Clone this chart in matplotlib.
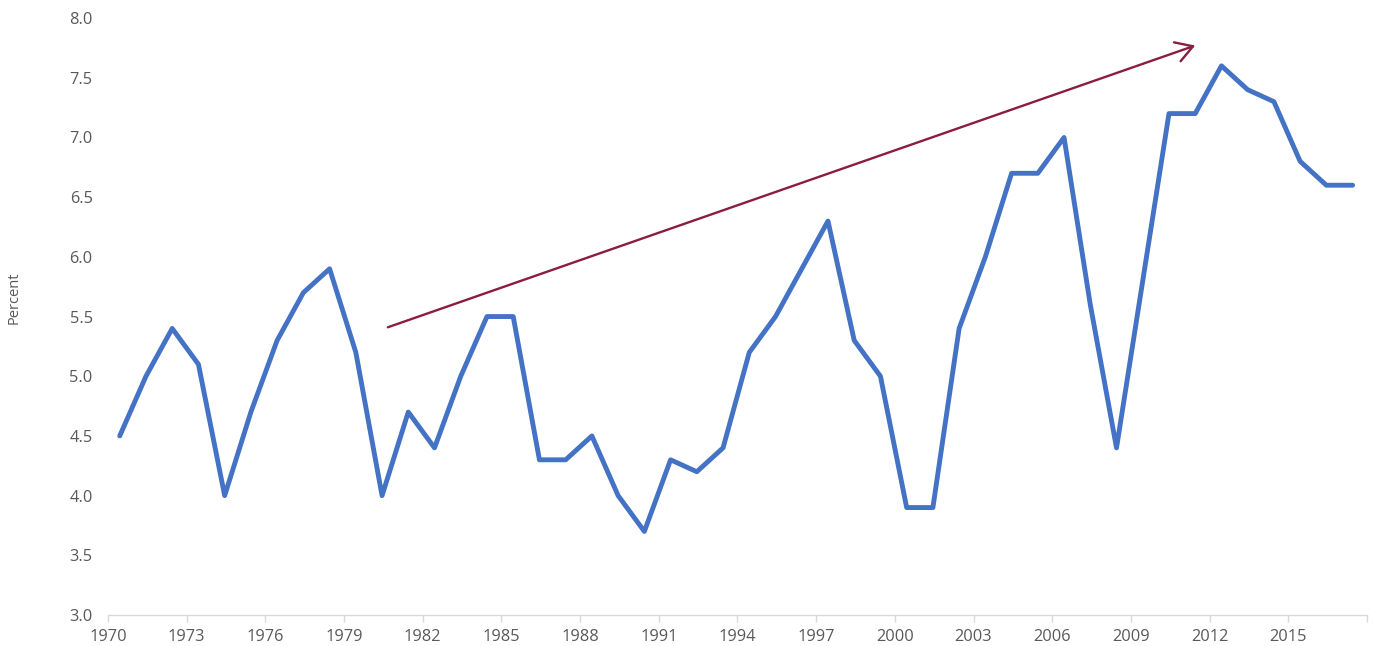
import matplotlib.pyplot as plt
import numpy as np

years = list(range(1970, 2018))
values = [4.5, 5.0, 5.4, 5.1, 4.0, 4.7, 5.3, 5.7, 5.9, 5.2,
          4.0, 4.7, 4.4, 5.0, 5.5, 5.5, 4.3, 4.3, 4.5, 4.0,
          3.7, 4.3, 4.2, 4.4, 5.2, 5.5, 5.9, 6.3, 5.3, 5.0,
          3.9, 3.9, 5.4, 6.0, 6.7, 6.7, 7.0, 5.6, 4.4, 5.8,
          7.2, 7.2, 7.6, 7.4, 7.3, 6.8, 6.6, 6.6]
arrow_start = (1980.67, 5.41)
arrow_end = (2011.45, 7.77)

plt.rcParams['font.family'] = ['Open Sans', 'DejaVu Sans']
grey = '#595959'

fig = plt.figure(figsize=(13.75, 6.46), dpi=100)
ax = fig.add_axes([0.0785, 0.048, 0.9157, 0.924])

# points sit in the middle of each category slot
x = np.array(years) + 0.45
ax.plot(x, values, color='#4472C4', lw=3.5, solid_joinstyle='round', solid_capstyle='round')

ax.annotate('', xy=arrow_end, xytext=arrow_start,
            arrowprops=dict(arrowstyle='->,head_length=0.5,head_width=0.3', color='#8B1C42', lw=1.7,
                            mutation_scale=24, shrinkA=0, shrinkB=0))

ax.set_xlim(1970, 2018)
ax.set_ylim(3.0, 8.0)
ticks = list(range(1970, 2019, 3))
ax.set_xticks(ticks)
ax.set_xticklabels([str(t) if t < 2018 else '' for t in ticks])
ax.set_yticks(np.arange(3.0, 8.01, 0.5))
ax.set_yticklabels(['%.1f' % v for v in np.arange(3.0, 8.01, 0.5)])

for s in ['top', 'right', 'left']:
    ax.spines[s].set_visible(False)
ax.spines['bottom'].set_color('#d9d9d9')
ax.spines['bottom'].set_linewidth(1.0)
ax.tick_params(axis='x', colors='#d9d9d9', labelcolor=grey, labelsize=11.8,
               length=5, width=1, pad=5)
ax.tick_params(axis='y', length=0, labelcolor=grey, labelsize=11.8, pad=11)

fig.text(0.0105, 0.539, 'Percent', rotation=90, color=grey, fontsize=10.5,
         ha='center', va='center')

fig.savefig('out.png', dpi=100)
